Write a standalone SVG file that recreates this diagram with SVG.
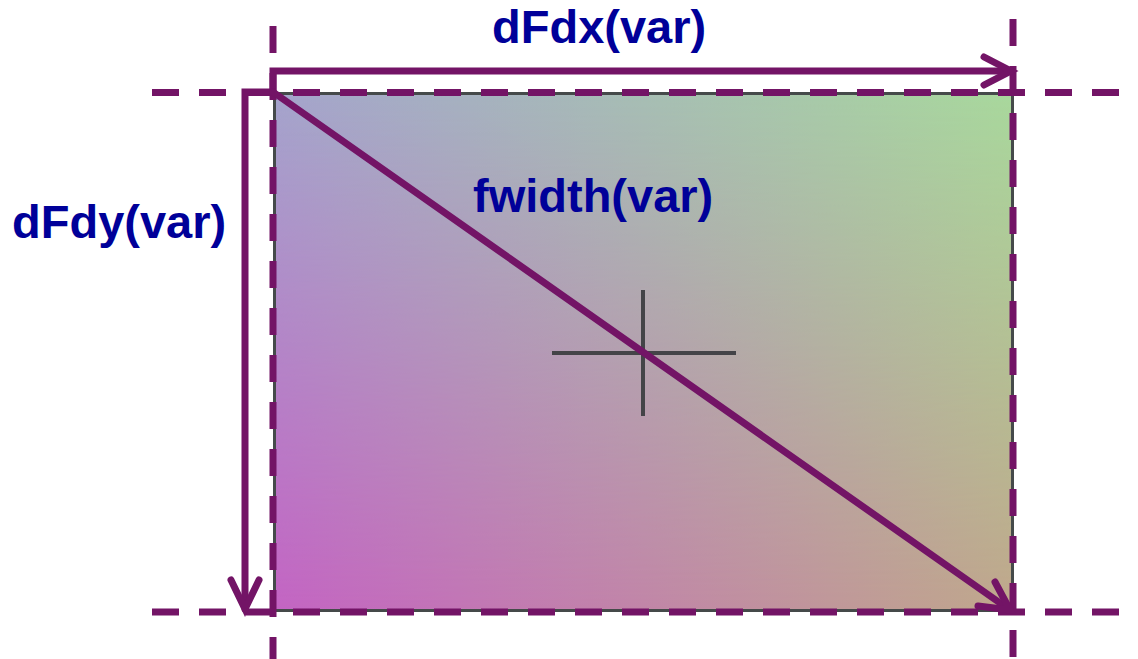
<svg xmlns="http://www.w3.org/2000/svg" width="1138" height="659" viewBox="0 0 1138 659">
<style>
.dash{stroke:#731466;stroke-width:7;stroke-dasharray:27 20;fill:none}
.arr{stroke:#731466;stroke-width:7;fill:none;stroke-linecap:round;stroke-linejoin:miter}
.lbl{font-family:"Liberation Sans",Arial,sans-serif;font-weight:bold;font-size:47px;fill:#000099}
.cross{stroke:#444448;stroke-width:4;fill:none}
</style>
<defs>
<linearGradient id="gTop" x1="0" y1="0" x2="1" y2="0">
<stop offset="0" stop-color="#a4a4cc"/>
<stop offset="1" stop-color="#a8d89c"/>
</linearGradient>
<linearGradient id="gBot" x1="0" y1="0" x2="1" y2="0">
<stop offset="0" stop-color="#c464c4"/>
<stop offset="1" stop-color="#c0a88c"/>
</linearGradient>
<linearGradient id="gMask" x1="0" y1="0" x2="0" y2="1">
<stop offset="0" stop-color="#fff"/>
<stop offset="1" stop-color="#000"/>
</linearGradient>
<mask id="m" maskUnits="userSpaceOnUse" x="273" y="92" width="741" height="520">
<rect x="273" y="92" width="741" height="520" fill="url(#gMask)"/>
</mask>
</defs>
<g id="image">
<rect x="273" y="92" width="741" height="520" fill="url(#gBot)"/>
<rect x="273" y="92" width="741" height="520" fill="url(#gTop)" mask="url(#m)"/>
<rect x="274.5" y="93.5" width="738" height="517" fill="none" stroke="#454a4a" stroke-width="3"/>
<path class="cross" d="M643 290V416M552 353H736"/>
</g>
<g id="guides">
<path class="dash" d="M152 92.5H1138"/>
<path class="dash" d="M152 612H1138"/>
<path class="dash" d="M273 26V659"/>
<path class="dash" d="M1013 19V659"/>
</g>
<g id="connectors">
<path class="arr" d="M273 92V71H1011"/>
<path class="arr" d="M984 57L1011 71L984 85"/>
<path class="arr" d="M273 92H245V609"/>
<path class="arr" d="M231 580L245 609L259 580"/>
<path class="arr" d="M273 92L1010 610"/>
<path class="arr" d="M995 582L1010 610L978 606"/>
</g>
<g id="labels">
<text class="lbl" x="492" y="43">dFdx(var)</text>
<text class="lbl" x="12" y="238">dFdy(var)</text>
<text class="lbl" x="473" y="212">fwidth(var)</text>
</g>
</svg>
